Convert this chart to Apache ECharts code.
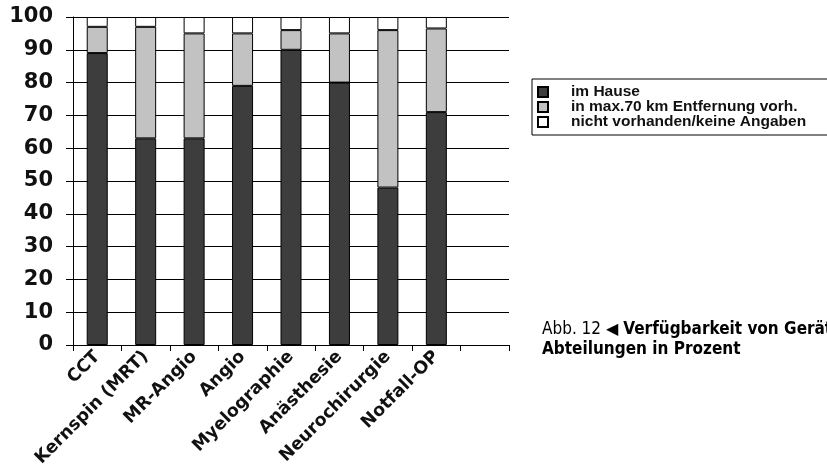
<!DOCTYPE html>
<html>
<head>
<meta charset="utf-8">
<script src="https://cdn.jsdelivr.net/npm/echarts@6/dist/echarts.min.js"></script>
<style>html,body{margin:0;padding:0;background:#fff}#c{width:827px;height:469px}</style>
</head>
<body>
<div id="c"></div>
<script>
const categories = ['CCT', 'Kernspin (MRT)', 'MR-Angio', 'Angio', 'Myelographie', 'Anästhesie', 'Neurochirurgie', 'Notfall-OP', ''];
const imHause = [89, 63, 63, 79, 90, 80, 48, 71, null];
const inMax70 = [8, 34, 32, 16, 6, 15, 48, 25.5, null];
const nichtVorhanden = [3, 3, 5, 5, 4, 5, 4, 3.5, null];
const seriesNames = ['im Hause', 'in max.70 km Entfernung vorh.', 'nicht vorhanden/keine Angaben'];
const yTicks = [0, 10, 20, 30, 40, 50, 60, 70, 80, 90, 100];

const chart = echarts.init(document.getElementById('c'), null, {renderer: 'canvas'});
const axisFont = 'DejaVu Sans, Liberation Sans, Arial, sans-serif';
const barStyle = (c) => ({color: c, borderColor: '#000', borderWidth: 1});
const colors = ['#3d3d3d', '#c2c2c2', '#ffffff'];
const data = [imHause, inMax70, nichtVorhanden];

chart.setOption({
  animation: false,
  backgroundColor: '#ffffff',
  grid: {left: 73, right: 318, top: 17, bottom: 124, containLabel: false, outerBoundsMode: 'none'},
  legend: {
    left: 532, top: 79, orient: 'vertical',
    data: seriesNames, icon: 'rect',
    itemWidth: 10, itemHeight: 10, itemGap: -1,
    borderColor: '#000', borderWidth: 1, padding: [5, 40, 5, 5],
    textStyle: {fontFamily: 'Liberation Sans, Arial, sans-serif', fontWeight: 'bold', fontSize: 15.5, color: '#111', padding: [0, 0, 0, 18]}
  },
  xAxis: {
    type: 'category', data: categories,
    axisLine: {lineStyle: {color: '#000', width: 1}},
    axisTick: {show: true, length: 6, lineStyle: {color: '#000'}},
    axisLabel: {interval: 0, rotate: 45, margin: 9, fontFamily: axisFont, fontWeight: 'bold', fontSize: 17.5, color: '#111'},
    splitLine: {show: false}
  },
  yAxis: {
    type: 'value', min: yTicks[0], max: yTicks[yTicks.length - 1], interval: 10,
    axisLine: {show: true, lineStyle: {color: '#000', width: 1}},
    axisTick: {show: true, length: 7, lineStyle: {color: '#000'}},
    axisLabel: {margin: 20, fontFamily: axisFont, fontWeight: 'bold', fontSize: 21, color: '#111'},
    splitLine: {show: true, lineStyle: {color: '#000', width: 1}}
  },
  series: seriesNames.map((n, i) => ({
    name: n, type: 'bar', stack: 'total', barWidth: 21,
    itemStyle: barStyle(colors[i]),
    data: data[i]
  })),
  graphic: [{
    type: 'text', left: 542, top: 321,
    style: {
      text: '{a|Abb. 12 }{t|◀ }{b|Verfügbarkeit von Geräten und}\n{b|Abteilungen in Prozent}',
      rich: {
        a: {fontFamily: 'Liberation Sans Narrow, DejaVu Sans Condensed, sans-serif', fontSize: 17, color: '#111', lineHeight: 20},
        t: {fontFamily: 'DejaVu Sans, sans-serif', fontSize: 16, color: '#1b5e84', lineHeight: 20},
        b: {fontFamily: 'Liberation Sans Narrow, DejaVu Sans Condensed, sans-serif', fontWeight: 'bold', fontSize: 17, color: '#111', lineHeight: 20}
      }
    }
  }]
});
</script>
</body>
</html>
